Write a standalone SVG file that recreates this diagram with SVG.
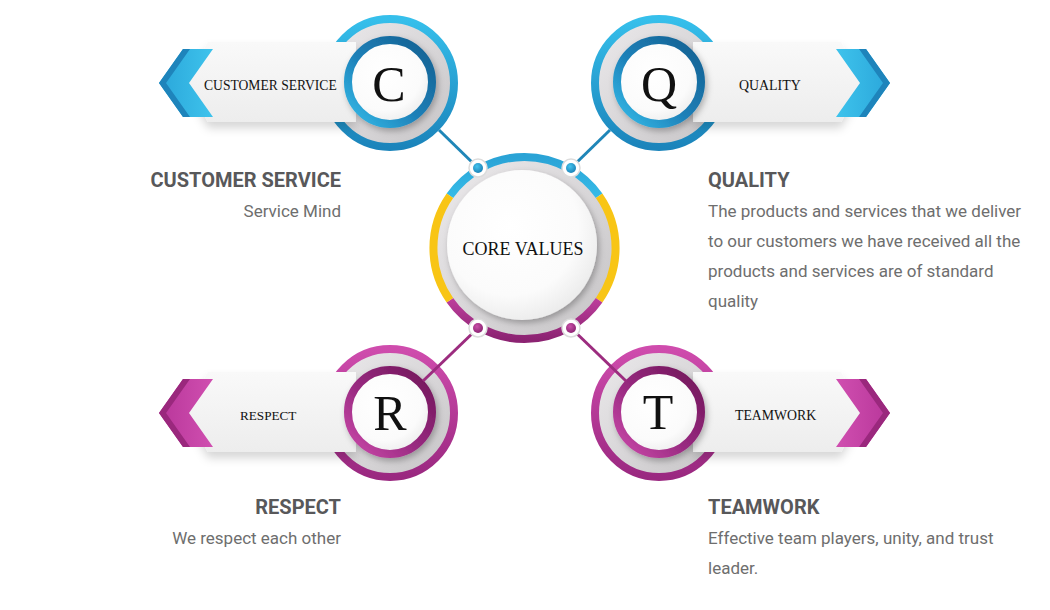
<svg xmlns="http://www.w3.org/2000/svg" width="1050" height="610" viewBox="0 0 1050 610">
<style>
.head{font-family:Roboto,"Liberation Sans",sans-serif;font-weight:bold;font-size:20px;fill:#58585a}
.body{font-family:Roboto,"Liberation Sans",sans-serif;font-size:17px;fill:#6e6e6e}
.ban{font-family:"Liberation Serif",serif;font-size:13.6px;fill:#111}
.big{font-family:"Liberation Serif",serif;font-size:50px;fill:#111;text-anchor:middle}
.core{font-family:"Liberation Serif",serif;font-size:18px;fill:#111;text-anchor:middle}
.lnB{stroke:#1f86b8;stroke-width:3;fill:none}
.lnP{stroke:#9c2c7f;stroke-width:3;fill:none}
</style>
<defs>
<filter id="sh" x="-30%" y="-30%" width="160%" height="160%"><feDropShadow dx="2" dy="3" stdDeviation="3" flood-color="#000" flood-opacity="0.28"/></filter>
<filter id="bsh" x="-20%" y="-30%" width="140%" height="170%"><feDropShadow dx="0" dy="6" stdDeviation="5" flood-color="#000" flood-opacity="0.16"/></filter>
<linearGradient id="gBO" x1="0" y1="0" x2="0" y2="1"><stop offset="0" stop-color="#36bfeb"/><stop offset="1" stop-color="#1b84bb"/></linearGradient>
<linearGradient id="gBI" x1="1" y1="0" x2="0" y2="1"><stop offset="0" stop-color="#155f90"/><stop offset="0.55" stop-color="#1d80b8"/><stop offset="1" stop-color="#36bdea"/></linearGradient>
<linearGradient id="gPO" x1="0" y1="0" x2="0" y2="1"><stop offset="0" stop-color="#cf4cad"/><stop offset="1" stop-color="#9a2880"/></linearGradient>
<linearGradient id="gPI" x1="1" y1="0" x2="0" y2="1"><stop offset="0" stop-color="#701559"/><stop offset="0.55" stop-color="#982a80"/><stop offset="1" stop-color="#cc4aab"/></linearGradient>
<linearGradient id="gGray" x1="0" y1="0" x2="1" y2="1"><stop offset="0" stop-color="#eceaec"/><stop offset="1" stop-color="#c6c4c6"/></linearGradient>
<radialGradient id="gWhite" cx="0.42" cy="0.38" r="0.65"><stop offset="0" stop-color="#ffffff"/><stop offset="0.7" stop-color="#fbfbfb"/><stop offset="1" stop-color="#ebebeb"/></radialGradient>
<linearGradient id="gBan" x1="0" y1="0" x2="0" y2="1"><stop offset="0" stop-color="#f9f9f9"/><stop offset="1" stop-color="#ededed"/></linearGradient>
<linearGradient id="gChB" x1="0" y1="0" x2="1" y2="0"><stop offset="0" stop-color="#2aa6da"/><stop offset="1" stop-color="#3ec3ec"/></linearGradient>
<linearGradient id="gChBr" x1="1" y1="0" x2="0" y2="0"><stop offset="0" stop-color="#2aa6da"/><stop offset="1" stop-color="#3ec3ec"/></linearGradient>
<linearGradient id="gChP" x1="0" y1="0" x2="1" y2="0"><stop offset="0" stop-color="#b8369a"/><stop offset="1" stop-color="#d04fb0"/></linearGradient>
<linearGradient id="gChPr" x1="1" y1="0" x2="0" y2="0"><stop offset="0" stop-color="#b8369a"/><stop offset="1" stop-color="#d04fb0"/></linearGradient>
<linearGradient id="gCoreB" gradientUnits="userSpaceOnUse" x1="0" y1="157" x2="0" y2="200"><stop offset="0" stop-color="#2aa3d6"/><stop offset="1" stop-color="#36bde9"/></linearGradient>
<linearGradient id="gCoreP" gradientUnits="userSpaceOnUse" x1="0" y1="296" x2="0" y2="339"><stop offset="0" stop-color="#c0409f"/><stop offset="1" stop-color="#8c2372"/></linearGradient>
<radialGradient id="gDotB" cx="0.4" cy="0.35" r="0.7"><stop offset="0" stop-color="#45c4ee"/><stop offset="1" stop-color="#1a7fb5"/></radialGradient>
<radialGradient id="gDotP" cx="0.4" cy="0.35" r="0.7"><stop offset="0" stop-color="#c950a9"/><stop offset="1" stop-color="#8a2270"/></radialGradient>
</defs>
<rect width="1050" height="610" fill="#ffffff"/>

<g id="node-c">
<circle cx="390" cy="83" r="64" fill="url(#gGray)" stroke="url(#gBO)" stroke-width="8"/>
<polygon points="208,42 356,42 356,122 208,122 186,82" fill="url(#gBan)" filter="url(#bsh)"/>
<polygon points="159,83 183,49 213,49 189,83 213,117 183,117" fill="url(#gChB)"/>
<polygon points="159,83 183,49 190,49 166,83 190,117 183,117" fill="#1e84bb"/>
<circle cx="390" cy="82" r="42" fill="url(#gWhite)" stroke="url(#gBI)" stroke-width="8" filter="url(#sh)"/>
<text class="ban" x="204" y="90">CUSTOMER SERVICE</text>
<text class="big" x="389" y="101">C</text>
</g>

<g id="node-q">
<circle cx="659" cy="83" r="64" fill="url(#gGray)" stroke="url(#gBO)" stroke-width="8"/>
<polygon points="841,42 693,42 693,122 841,122 863,82" fill="url(#gBan)" filter="url(#bsh)"/>
<polygon points="890,83 866,49 836,49 860,83 836,117 866,117" fill="url(#gChBr)"/>
<polygon points="890,83 866,49 859,49 883,83 859,117 866,117" fill="#1e84bb"/>
<circle cx="659" cy="82" r="42" fill="url(#gWhite)" stroke="url(#gBI)" stroke-width="8" filter="url(#sh)"/>
<text class="ban" x="739" y="90" style="font-size:13.9px">QUALITY</text>
<text class="big" x="659" y="101">Q</text>
</g>

<g id="node-r">
<circle cx="390" cy="413" r="64" fill="url(#gGray)" stroke="url(#gPO)" stroke-width="8"/>
<polygon points="208,372 356,372 356,452 208,452 186,412" fill="url(#gBan)" filter="url(#bsh)"/>
<polygon points="159,413 183,379 213,379 189,413 213,447 183,447" fill="url(#gChP)"/>
<polygon points="159,413 183,379 190,379 166,413 190,447 183,447" fill="#9a287d"/>
<circle cx="390" cy="412" r="42" fill="url(#gWhite)" stroke="url(#gPI)" stroke-width="8" filter="url(#sh)"/>
<text class="ban" x="240" y="420" style="font-size:13.2px">RESPECT</text>
<text class="big" x="390" y="430">R</text>
</g>

<g id="node-t">
<circle cx="659" cy="413" r="64" fill="url(#gGray)" stroke="url(#gPO)" stroke-width="8"/>
<polygon points="841,372 693,372 693,452 841,452 863,412" fill="url(#gBan)" filter="url(#bsh)"/>
<polygon points="890,413 866,379 836,379 860,413 836,447 866,447" fill="url(#gChPr)"/>
<polygon points="890,413 866,379 859,379 883,413 859,447 866,447" fill="#9a287d"/>
<circle cx="659" cy="412" r="42" fill="url(#gWhite)" stroke="url(#gPI)" stroke-width="8" filter="url(#sh)"/>
<text class="ban" x="735" y="420" style="font-size:13.8px">TEAMWORK</text>
<text class="big" x="658" y="429">T</text>
</g>

<g id="node-core">
<circle cx="524.5" cy="248" r="88" fill="url(#gGray)"/>
<path d="M449.9,195.8 A91,91 0 0 1 599.1,195.8" fill="none" stroke="url(#gCoreB)" stroke-width="8"/>
<path d="M599.1,195.8 A91,91 0 0 1 599.1,300.2" fill="none" stroke="#f8c515" stroke-width="8"/>
<path d="M599.1,300.2 A91,91 0 0 1 449.9,300.2" fill="none" stroke="url(#gCoreP)" stroke-width="8"/>
<path d="M449.9,300.2 A91,91 0 0 1 449.9,195.8" fill="none" stroke="#f8c515" stroke-width="8"/>
<circle cx="522" cy="245" r="75" fill="url(#gWhite)" filter="url(#sh)"/>
<text class="core" x="523" y="255">CORE VALUES</text>
</g>

<g id="connectors">
<line class="lnB" x1="439" y1="130" x2="478" y2="168"/>
<line class="lnB" x1="610" y1="130" x2="571" y2="168"/>
<line class="lnP" x1="423" y1="381" x2="478" y2="328"/>
<line class="lnP" x1="626" y1="381" x2="571" y2="328"/>
<g stroke="#dcdcdc" stroke-width="1.5" fill="#ffffff">
<circle cx="478" cy="168" r="9"/>
<circle cx="571" cy="168" r="9"/>
<circle cx="478" cy="328" r="9"/>
<circle cx="571" cy="328" r="9"/>
</g>
<circle cx="478" cy="168" r="5" fill="url(#gDotB)"/>
<circle cx="571" cy="168" r="5" fill="url(#gDotB)"/>
<circle cx="478" cy="328" r="5" fill="url(#gDotP)"/>
<circle cx="571" cy="328" r="5" fill="url(#gDotP)"/>
</g>

<g id="captions">
<text class="head" x="341" y="187" text-anchor="end">CUSTOMER SERVICE</text>
<text class="body" x="341" y="217" text-anchor="end">Service Mind</text>
<text class="head" x="708" y="187">QUALITY</text>
<text class="body" x="708" y="217">The products and services that we deliver</text>
<text class="body" x="708" y="247">to our customers we have received all the</text>
<text class="body" x="708" y="277">products and services are of standard</text>
<text class="body" x="708" y="307">quality</text>
<text class="head" x="341" y="514" text-anchor="end">RESPECT</text>
<text class="body" x="341" y="544" text-anchor="end">We respect each other</text>
<text class="head" x="708" y="514">TEAMWORK</text>
<text class="body" x="708" y="544">Effective team players, unity, and trust</text>
<text class="body" x="708" y="574">leader.</text>
</g>
</svg>
